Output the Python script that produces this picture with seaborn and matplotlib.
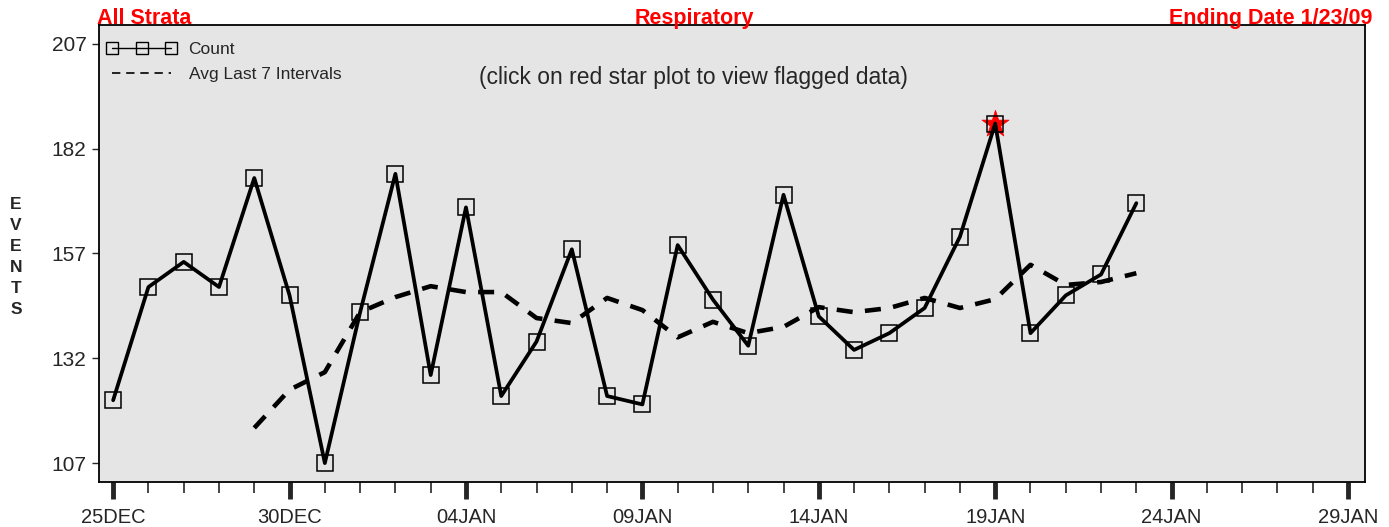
import matplotlib
matplotlib.use('Agg')
import matplotlib.dates as mdates
import matplotlib.pyplot as plt
import matplotlib.ticker as ticker
from matplotlib.lines import Line2D
import pandas as pd
import seaborn as sns

# data
dates = pd.date_range('2008-12-25', '2009-01-23', freq='D')
count = [122, 149, 155, 149, 175, 147, 107, 143, 176, 128,
         168, 123, 136, 158, 123, 121, 159, 146, 135, 171,
         142, 134, 138, 144, 161, 188, 138, 147, 152, 169]
avg_dates = pd.date_range('2008-12-29', '2009-01-23', freq='D')
avg7 = [115.4, 124.5, 128.7, 143.0, 146.6, 149.2, 147.8, 147.8, 141.6, 140.4,
        146.4, 143.5, 137.0, 140.7, 138.0, 139.5, 144.2, 143.0, 144.0, 146.4,
        144.0, 146.1, 154.3, 149.5, 150.2, 152.3]
flag_dates = pd.to_datetime(['2009-01-19'])
flag_values = [188]
y_ticks = [107, 132, 157, 182, 207]

df = pd.DataFrame({'date': dates, 'count': count})
df_avg = pd.DataFrame({'date': avg_dates, 'avg': avg7})
df_flag = pd.DataFrame({'date': flag_dates, 'count': flag_values})

#%%
sns.set_style('white')
plt.rcParams['font.family'] = ['Liberation Sans', 'DejaVu Sans']

fig, ax = plt.subplots(figsize=(13.89, 5.27), dpi=100)
plt.subplots_adjust(left=0.0713, right=0.9827, top=0.9526, bottom=0.0854)
ax.set_facecolor('#e5e5e5')

sns.scatterplot(data=df_flag, x='date', y='count', ax=ax, marker='*', s=420,
                color='red', edgecolor='red', linewidth=0.5, zorder=1.9)
sns.lineplot(data=df, x='date', y='count', ax=ax, color='black', linewidth=2.7,
             marker='s', markersize=11, markerfacecolor='none',
             markeredgecolor='black', markeredgewidth=1.1)
sns.lineplot(data=df_avg, x='date', y='avg', ax=ax, color='black', linewidth=3.3)
ax.lines[-1].set_dashes((3.5, 2.7))

start = pd.Timestamp('2008-12-25')
ax.set_xlim(mdates.date2num(start) - 0.4, mdates.date2num(start) + 35.48)
ax.set_ylim(102.5, 211.5)
ax.set_yticks(y_ticks)

major = pd.date_range('2008-12-25', '2009-01-29', freq='5D')
ax.set_xticks(mdates.date2num(major))
ax.xaxis.set_major_formatter(ticker.FuncFormatter(
    lambda x, _: mdates.num2date(x).strftime('%d%b').upper()))
ax.xaxis.set_minor_locator(mdates.DayLocator())

ax.tick_params(axis='x', which='major', length=12, width=3.5, labelsize=14.5, pad=7)
ax.tick_params(axis='x', which='minor', length=8, width=1.2)
ax.tick_params(axis='y', which='major', length=5, width=1, labelsize=15, pad=4)
ax.tick_params(bottom=True, left=True, which='both', direction='out')
for s in ax.spines.values():
    s.set_visible(True)
    s.set_color('black')
    s.set_linewidth(1.3)
ax.set_xlabel('')
ax.set_ylabel('')

handles = [
    Line2D([], [], color='black', lw=1, marker='s', markersize=8,
           markerfacecolor='none', markeredgecolor='black', markeredgewidth=1),
    Line2D([], [], color='black', lw=1.2, dashes=(5, 3.5)),
]
ax.legend(handles, ['Count', 'Avg Last 7 Intervals'], loc='upper left',
          bbox_to_anchor=(-0.002, 0.985), frameon=False, numpoints=3,
          handlelength=4.0, fontsize=12.5, borderaxespad=0.3, labelspacing=0.55,
          handletextpad=0.7, borderpad=0.3)

fig.text(0.499, 0.852, '(click on red star plot to view flagged data)',
         ha='center', va='center', fontsize=16.5)

fig.text(0.0699, 0.954, 'All Strata', color='red', fontweight='bold',
         fontsize=15.5, ha='left', va='baseline')
fig.text(0.5, 0.954, 'Respiratory', color='red', fontweight='bold',
         fontsize=15.5, ha='center', va='baseline')
fig.text(0.988, 0.954, 'Ending Date 1/23/09', color='red', fontweight='bold',
         fontsize=15.5, ha='right', va='baseline')
fig.text(0.0115, 0.512, 'E\nV\nE\nN\nT\nS', fontweight='bold', fontsize=12.5,
         ha='center', va='center', linespacing=1.5)

fig.savefig('out.png', dpi=100)
